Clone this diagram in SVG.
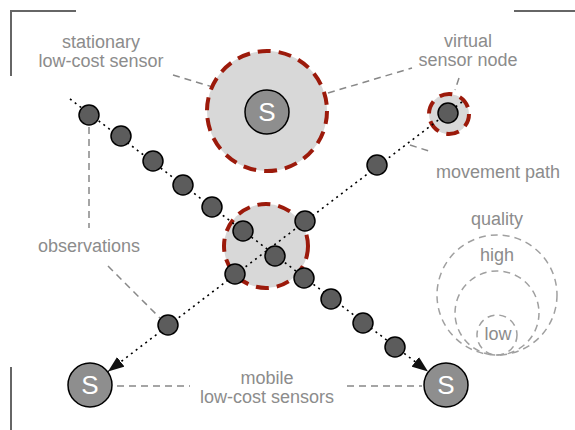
<svg xmlns="http://www.w3.org/2000/svg" width="575" height="430" viewBox="0 0 575 430">
<defs>
<style>
.lbl{font-family:"Liberation Sans",Arial,sans-serif;font-size:18px;fill:#8c8c8c;text-anchor:middle}
.stxt{font-family:"Liberation Sans",Arial,sans-serif;font-size:26px;fill:#ffffff;text-anchor:middle}
.sensor{fill:#8e8e8e;stroke:#000;stroke-width:1.5}
.dot{fill:#5c5c5c;stroke:#000;stroke-width:1.5}
.range{fill:#d8d8d8;stroke:#9c1a0b;stroke-width:4;stroke-dasharray:13 8}
.lead{fill:none;stroke:#888;stroke-width:1.5;stroke-dasharray:7 5}
.qual{fill:none;stroke:#a0a0a0;stroke-width:1.5;stroke-dasharray:7 5}
.path{fill:none;stroke:#000;stroke-width:1.6;stroke-dasharray:2 4}
.frame{fill:none;stroke:#666;stroke-width:2}
</style>
<marker id="arrow" viewBox="0 0 16 12" refX="16" refY="6" markerWidth="16" markerHeight="12" markerUnits="userSpaceOnUse" orient="auto">
<path d="M0,0 L16,6 L0,12 Z" fill="#111"/>
</marker>
</defs>

<g id="frame">
<path class="frame" d="M11,76 V11 H76"/>
<path class="frame" d="M514,11 H575"/>
<path class="frame" d="M11,367 V430"/>
</g>

<g id="quality-legend">
<circle class="qual" cx="497" cy="295" r="60"/>
<circle class="qual" cx="497" cy="313" r="42"/>
<circle class="qual" cx="497" cy="335" r="20"/>
<text class="lbl" x="497" y="225">quality</text>
<text class="lbl" x="497" y="261">high</text>
<text class="lbl" x="498" y="340">low</text>
</g>

<g id="virtual-range-center">
<circle class="range" cx="266" cy="246" r="42"/>
</g>

<g id="leaders">
<line class="lead" x1="173" y1="75" x2="246" y2="97"/>
<line class="lead" x1="328" y1="93" x2="412" y2="68"/>
<line class="lead" x1="459" y1="78" x2="455" y2="90"/>
<line class="lead" x1="410" y1="145" x2="432" y2="152"/>
<line class="lead" x1="89" y1="127" x2="89" y2="228"/>
<line class="lead" x1="108" y1="266" x2="160" y2="318"/>
<line class="lead" x1="117" y1="386" x2="190" y2="386"/>
<line class="lead" x1="347" y1="386" x2="422" y2="386"/>
</g>

<g id="stationary-sensor">
<circle class="range" cx="267" cy="111" r="60"/>
<circle class="sensor" cx="267" cy="112" r="22"/>
<text class="stxt" x="267" y="121">S</text>
</g>

<g id="virtual-sensor-node">
<circle class="range" cx="449" cy="114" r="20"/>
</g>

<g id="connectors">
<line class="path" x1="70" y1="99" x2="428" y2="371.5" marker-end="url(#arrow)"/>
<line class="path" x1="462" y1="102" x2="108" y2="371.5" marker-end="url(#arrow)"/>
</g>

<g id="observations-descending">
<circle class="dot" cx="89" cy="115" r="10"/>
<circle class="dot" cx="121" cy="136" r="10"/>
<circle class="dot" cx="153" cy="161" r="10"/>
<circle class="dot" cx="183" cy="185" r="10"/>
<circle class="dot" cx="212" cy="207" r="10"/>
<circle class="dot" cx="243" cy="231" r="10"/>
<circle class="dot" cx="275" cy="256" r="10"/>
<circle class="dot" cx="304" cy="278" r="10"/>
<circle class="dot" cx="331" cy="299" r="10"/>
<circle class="dot" cx="363" cy="323" r="10"/>
<circle class="dot" cx="395" cy="347" r="10"/>
</g>

<g id="observations-ascending">
<circle class="dot" cx="168" cy="325" r="10"/>
<circle class="dot" cx="235" cy="274" r="10"/>
<circle class="dot" cx="305" cy="221" r="10"/>
<circle class="dot" cx="377" cy="165" r="10"/>
<circle class="dot" cx="448" cy="113" r="10"/>
</g>

<g id="mobile-sensor-left">
<circle class="sensor" cx="90" cy="385" r="22"/>
<text class="stxt" x="90" y="394">S</text>
</g>

<g id="mobile-sensor-right">
<circle class="sensor" cx="446" cy="385" r="22"/>
<text class="stxt" x="446" y="394">S</text>
</g>

<g id="labels">
<text class="lbl" x="101" y="48">stationary</text>
<text class="lbl" x="101" y="67">low-cost sensor</text>
<text class="lbl" x="468" y="47">virtual</text>
<text class="lbl" x="468" y="66">sensor node</text>
<text class="lbl" x="498" y="178">movement path</text>
<text class="lbl" x="89" y="252">observations</text>
<text class="lbl" x="267" y="384">mobile</text>
<text class="lbl" x="267" y="403">low-cost sensors</text>
</g>
</svg>
